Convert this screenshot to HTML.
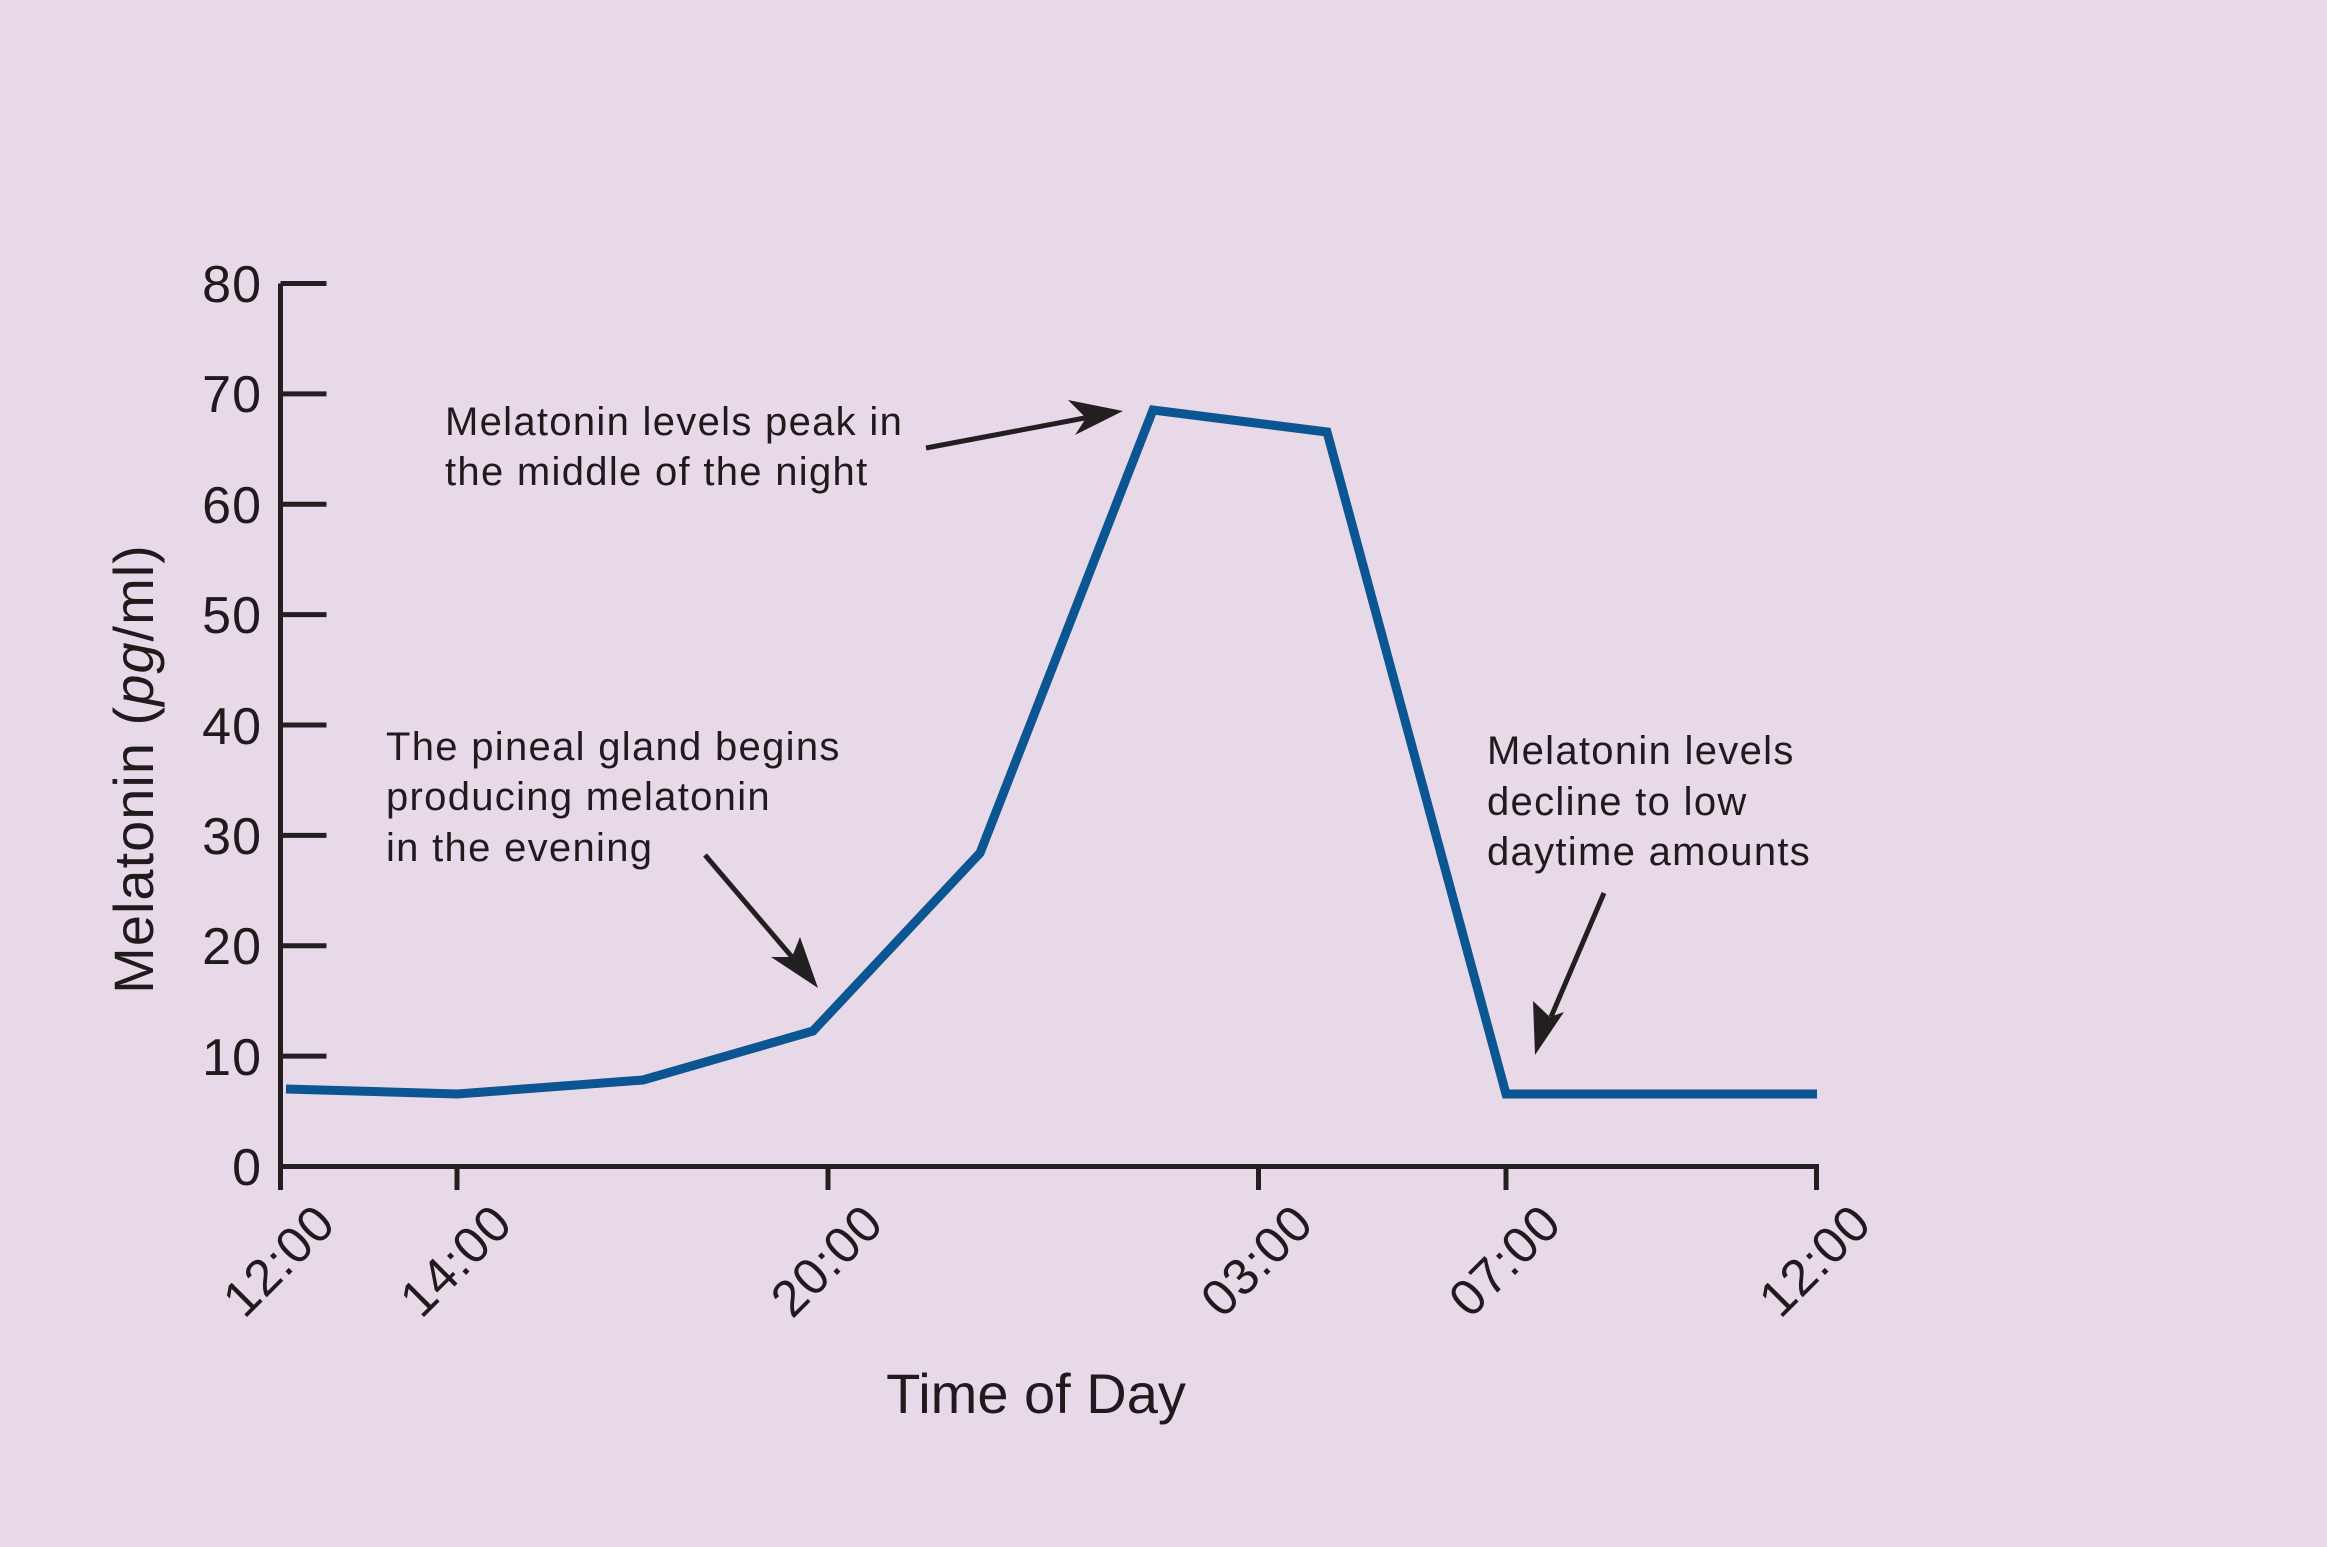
<!DOCTYPE html>
<html><head><style>
html,body{margin:0;padding:0;background:#e7d9e8;}
svg{display:block;}
text{font-family:"Liberation Sans",sans-serif;fill:#1f1a1c;}
</style></head><body>
<svg width="2327" height="1547" viewBox="0 0 2327 1547" xmlns="http://www.w3.org/2000/svg">
<rect width="2327" height="1547" fill="#e7d9e8"/>
<g stroke="#231f20" stroke-width="5" fill="none">
<path d="M280.5,283.5 V1190"/>
<path d="M278,1166.5 H1819"/>
<path d="M280.5,283.5H326.5 M280.5,393.9H326.5 M280.5,504.3H326.5 M280.5,614.6H326.5 M280.5,725H326.5 M280.5,835.4H326.5 M280.5,945.8H326.5 M280.5,1056.1H326.5"/>
<path d="M457,1166.5V1190 M828,1166.5V1190 M1258.5,1166.5V1190 M1506,1166.5V1190 M1816.5,1166.5V1190"/>
</g>
<g font-size="52" text-anchor="end" letter-spacing="1">
<text x="262" y="302">80</text><text x="262" y="412">70</text><text x="262" y="523">60</text><text x="262" y="633">50</text><text x="262" y="744">40</text><text x="262" y="854">30</text><text x="262" y="964">20</text><text x="262" y="1075">10</text><text x="262" y="1185">0</text>
</g>
<text x="134" y="769" font-size="56" letter-spacing="1" text-anchor="middle" transform="rotate(-90 134 769)" dy="19">Melatonin (<tspan font-style="italic">pg</tspan>/ml)</text>
<g font-size="51" text-anchor="end" letter-spacing="1">
<text transform="translate(338,1226) rotate(-45)">12:00</text>
<text transform="translate(515,1226) rotate(-45)">14:00</text>
<text transform="translate(886,1226) rotate(-45)">20:00</text>
<text transform="translate(1316,1226) rotate(-45)">03:00</text>
<text transform="translate(1564,1226) rotate(-45)">07:00</text>
<text transform="translate(1874,1226) rotate(-45)">12:00</text>
</g>
<text x="1036" y="1413" font-size="56" text-anchor="middle">Time of Day</text>
<polyline points="286,1089 457,1094 643,1080 813,1031 980,853 1153,410 1327,432 1506,1094 1817,1094" fill="none" stroke="#0b5592" stroke-width="9" stroke-linejoin="miter"/>
<g font-size="40" letter-spacing="1.3">
<text x="445" y="435">Melatonin levels peak in</text>
<text x="445" y="485">the middle of the night</text>
<text x="386" y="760">The pineal gland begins</text>
<text x="386" y="810">producing melatonin</text>
<text x="386" y="861">in the evening</text>
<text x="1487" y="764">Melatonin levels</text>
<text x="1487" y="815">decline to low</text>
<text x="1487" y="865">daytime amounts</text>
</g>
<g stroke="#231f20" stroke-width="5" fill="none">
<path d="M926,448 L1090,417"/>
<path d="M705,855 L792,957"/>
<path d="M1604,893 L1551,1017"/>
</g>
<g fill="#231f20">
<polygon points="1123,411 1075,435 1086,418 1068,400"/>
<polygon points="818,988 771,957 792,957 800,937"/>
<polygon points="1535,1055 1533,1001 1550,1017 1564,1012"/>
</g>
</svg>
</body></html>
